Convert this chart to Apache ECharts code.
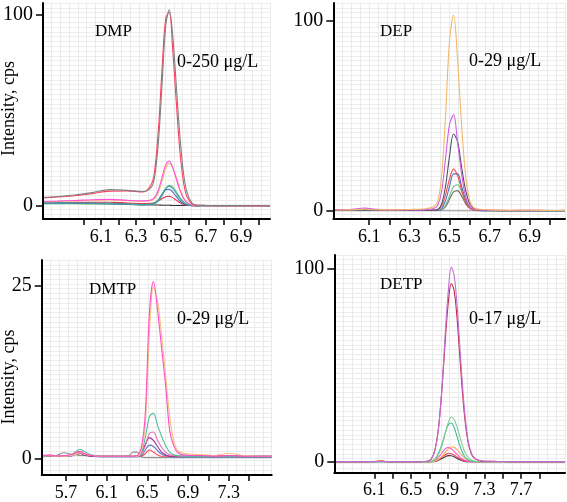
<!DOCTYPE html>
<html><head><meta charset="utf-8">
<script src="https://cdn.jsdelivr.net/npm/echarts@6/dist/echarts.min.js"></script>
<style>html,body{margin:0;padding:0;background:#fff}#c{width:567px;height:502px}</style>
</head><body><div id="c"></div>
<script>
// ---------- DATA ----------
const PANEL_NAMES = ['DMP', 'DEP', 'DMTP', 'DETP'];
const PANEL_RANGES = ['0-250 μg/L', '0-29 μg/L', '0-29 μg/L', '0-17 μg/L'];
const Y_TITLE = 'Intensity, cps';

// DMP (top-left)
const DMP_X = [5.77, 5.85, 5.95, 6.05, 6.15, 6.25, 6.34, 6.39, 6.41, 6.43, 6.45, 6.47, 6.49, 6.51, 6.53, 6.55, 6.57, 6.59, 6.62, 6.65, 6.70, 6.80, 6.90, 7.00, 7.066];
const DMP_GREY   = [4.5, 5.0, 5.8, 7.0, 8.6, 8.2, 7.6, 10.1, 17.4, 35.4, 65, 94.1, 102.8, 89.2, 64, 38, 18.6, 7.7, 1.6, 0.4, 0.3, 0.2, 0.2, 0.1, 0.1];
const DMP_RED    = [4.2, 4.7, 5.4, 6.5, 7.8, 7.9, 7.3, 11.8, 21, 42, 73, 98, 101.5, 82, 55, 30, 13.5, 5.2, 1.2, 0.4, 0.3, 0.2, 0.2, 0.1, 0.1];
const DMP_PINK   = [2.4, 2.6, 2.9, 3.3, 3.5, 3.0, 2.7, 3.3, 4.9, 8.8, 15.3, 21.5, 23.6, 20.1, 14.4, 8.6, 4.3, 1.9, 0.5, 0.3, 0.2, 0.2, 0.1, 0.1, 0.1];
const DMP_YELLOW = [2.2, 2.4, 2.7, 3.0, 3.2, 2.8, 2.5, 2.9, 4.2, 7.5, 13.3, 19.5, 22.3, 20.2, 15.2, 9.5, 4.9, 2.2, 0.7, 0.3, 0.2, 0.2, 0.1, 0.1, 0.1];
const DMP_TEAL   = [1.8, 1.7, 1.6, 1.5, 1.4, 1.0, 0.8, 1.0, 1.8, 3.5, 6.4, 9.2, 10.4, 9.2, 6.7, 4.0, 2.0, 0.9, 0.4, 0.2, 0.2, 0.1, 0.1, 0.1, 0.1];
const DMP_BLUE   = [1.5, 1.5, 1.4, 1.3, 1.2, 0.9, 0.6, 0.9, 1.7, 3.4, 6.0, 8.5, 8.8, 7.3, 5.0, 2.8, 1.3, 0.6, 0.3, 0.2, 0.1, 0.1, 0.1, 0.1, 0.1];
const DMP_GREEN  = [1.2, 1.2, 1.2, 1.1, 1.0, 0.8, 0.6, 0.7, 1.3, 2.8, 5.6, 9.0, 10.8, 10.0, 7.6, 4.7, 2.4, 1.0, 0.4, 0.2, 0.1, 0.1, 0.1, 0.1, 0.1];
const DMP_RED2   = [1.8, 1.8, 1.9, 2.0, 2.0, 1.6, 1.3, 1.4, 1.9, 2.8, 3.9, 4.9, 5.1, 4.4, 3.1, 1.8, 0.9, 0.4, 0.2, 0.1, 0.1, 0.1, 0.1, 0.1, 0.1];
const DMP_DARK   = [1.9, 1.8, 1.7, 1.6, 1.3, 1.0, 0.7, 0.6, 0.5, 0.5, 0.4, 0.4, 0.4, 0.3, 0.3, 0.3, 0.3, 0.3, 0.2, 0.2, 0.2, 0.2, 0.2, 0.1, 0.1];
const DMP_XTICKS = [6.0, 6.1, 6.2, 6.3, 6.4, 6.5, 6.6, 6.7, 6.8, 6.9, 7.0];
const DMP_XLABELS = [6.1, 6.3, 6.5, 6.7, 6.9];
const DMP_YTICKS = [0, 100];

// DEP (top-right)
const DEP_X = [5.921, 6.0, 6.05, 6.08, 6.12, 6.2, 6.3, 6.38, 6.42, 6.44, 6.46, 6.48, 6.50, 6.52, 6.54, 6.56, 6.58, 6.60, 6.62, 6.65, 6.70, 6.80, 6.90, 7.00, 7.075];
const DEP_ORANGE  = [0.5, 0.6, 0.8, 0.9, 0.7, 0.6, 0.8, 1.2, 2.2, 4.6, 17.7, 49.9, 89.7, 103, 79.5, 45.1, 18.7, 5.8, 1.8, 0.9, 0.6, 0.4, 0.4, 0.3, 0.3];
const DEP_MAGENTA = [0.6, 0.8, 1.3, 1.6, 1.0, 0.6, 0.5, 0.7, 1.3, 2.8, 10, 27.5, 45.5, 50.5, 36, 19.5, 7.5, 2.4, 1.0, 0.6, 0.4, 0.3, 0.3, 0.3, 0.3];
const DEP_DARK    = [0.4, 0.5, 0.6, 0.6, 0.5, 0.4, 0.4, 0.4, 0.5, 0.8, 3.5, 13, 29, 40.5, 36.5, 23, 11, 4, 1.4, 0.5, 0.3, 0.2, 0.2, 0.2, 0.2];
const DEP_RED     = [0.7, 0.6, 0.9, 1.0, 0.7, 0.5, 0.6, 0.5, 0.5, 0.7, 2.5, 8.5, 17, 22, 18.5, 11, 4.8, 1.6, 0.6, 0.4, 0.4, 0.3, 0.4, 0.3, 0.4];
const DEP_BLUE    = [0.3, 0.4, 0.5, 0.5, 0.4, 0.3, 0.3, 0.3, 0.3, 0.3, 1.2, 5.5, 13, 19.5, 19.5, 13, 6, 2.2, 0.8, 0.3, 0.2, 0.2, 0.2, 0.2, 0.2];
const DEP_GREEN   = [0.3, 0.3, 0.4, 0.4, 0.3, 0.3, 0.3, 0.3, 0.3, 0.3, 0.6, 3, 8, 12.8, 13.8, 10, 5, 1.9, 0.7, 0.3, 0.2, 0.2, 0.2, 0.2, 0.2];
const DEP_OLIVE   = [0.3, 0.3, 0.3, 0.3, 0.3, 0.3, 0.3, 0.3, 0.3, 0.3, 0.5, 2.3, 6.2, 10, 10.7, 7.8, 3.9, 1.5, 0.5, 0.2, 0.2, 0.2, 0.2, 0.2, 0.2];
const DEP_FLAT    = [0.1, 0.1, 0.1, 0.1, 0.1, 0.1, 0.1, 0.1, 0.1, 0.1, 0.1, 0.1, 0.1, 0.1, 0.1, 0.1, 0.1, 0.1, 0.1, 0.1, 0.1, 0.1, 0.1, 0.1, 0.1];
const DEP_XTICKS = [6.1, 6.2, 6.3, 6.4, 6.5, 6.6, 6.7, 6.8, 6.9, 7.0];
const DEP_XLABELS = [6.1, 6.3, 6.5, 6.7, 6.9];
const DEP_YTICKS = [0, 100];

// DMTP (bottom-left)
const DMTP_X = [5.461, 5.55, 5.62, 5.68, 5.75, 5.80, 5.84, 5.88, 5.95, 6.05, 6.15, 6.25, 6.32, 6.36, 6.40, 6.44, 6.48, 6.52, 6.56, 6.60, 6.64, 6.68, 6.72, 6.76, 6.80, 6.86, 6.95, 7.05, 7.15, 7.30, 7.45, 7.60, 7.723];
const DMTP_PINK    = [0.4, 0.5, 0.3, 0.4, 0.5, 0.9, 1.0, 0.7, 0.4, 0.3, 0.3, 0.3, 0.3, 0.3, 0.4, 1.5, 6.5, 21, 25.6, 21.5, 16, 10.5, 4, 1.8, 0.8, 0.5, 0.4, 0.4, 0.3, 0.4, 0.3, 0.3, 0.3];
const DMTP_ORANGE  = [0.3, 0.4, 0.3, 0.3, 0.4, 0.6, 0.8, 0.6, 0.4, 0.3, 0.3, 0.3, 0.3, 0.3, 0.3, 1.0, 5.0, 18, 24.8, 22.8, 17.8, 12, 6, 2.5, 1.1, 0.7, 0.6, 0.5, 0.4, 0.7, 0.4, 0.3, 0.3];
const DMTP_TEAL    = [0.3, 0.4, 0.3, 0.3, 0.5, 1.0, 1.3, 1.0, 0.5, 0.3, 0.3, 0.3, 0.3, 0.3, 0.3, 0.8, 3.0, 6.0, 6.5, 4.8, 3.2, 1.8, 0.9, 0.5, 0.4, 0.3, 0.3, 0.3, 0.3, 0.3, 0.3, 0.3, 0.3];
const DMTP_PINK2   = [0.3, 0.3, 0.3, 0.3, 0.4, 0.7, 0.8, 0.6, 0.4, 0.3, 0.3, 0.3, 0.3, 0.3, 0.3, 0.6, 1.8, 3.6, 3.8, 2.6, 1.6, 0.9, 0.5, 0.4, 0.3, 0.3, 0.3, 0.3, 0.3, 0.3, 0.3, 0.3, 0.3];
const DMTP_PURPLE  = [0.3, 0.3, 0.3, 0.3, 0.4, 0.6, 0.7, 0.5, 0.3, 0.3, 0.3, 0.3, 0.3, 0.3, 0.3, 0.7, 2.0, 3.0, 2.6, 1.7, 0.9, 0.5, 0.3, 0.3, 0.3, 0.3, 0.3, 0.3, 0.3, 0.3, 0.3, 0.3, 0.3];
const DMTP_BLUE    = [0.2, 0.3, 0.3, 0.3, 0.3, 0.6, 0.7, 0.5, 0.3, 0.2, 0.2, 0.2, 0.2, 0.2, 0.2, 0.4, 1.2, 1.9, 1.7, 1.1, 0.6, 0.4, 0.3, 0.2, 0.2, 0.2, 0.2, 0.2, 0.2, 0.2, 0.2, 0.2, 0.2];
const DMTP_RED     = [0.3, 0.3, 0.3, 0.3, 0.4, 0.7, 0.9, 0.6, 0.4, 0.3, 0.3, 0.3, 0.3, 0.3, 0.3, 0.3, 0.7, 1.2, 0.9, 0.5, 0.3, 0.3, 0.3, 0.3, 0.3, 0.3, 0.3, 0.3, 0.3, 0.3, 0.3, 0.3, 0.3];
const DMTP_GREY    = [0.3, 0.3, 0.5, 0.8, 0.6, 0.5, 0.4, 0.4, 0.3, 0.3, 0.3, 0.3, 0.4, 0.9, 0.9, 0.2, 0.1, 0.1, 0.1, 0.1, 0.1, 0.1, 0.1, 0.1, 0.1, 0.1, 0.1, 0.1, 0.1, 0.1, 0.1, 0.1, 0.1];
const DMTP_XTICKS = [5.7, 5.9, 6.1, 6.3, 6.5, 6.7, 6.9, 7.1, 7.3, 7.5];
const DMTP_XLABELS = [5.7, 6.1, 6.5, 6.9, 7.3];
const DMTP_YTICKS = [0, 25];

// DETP (bottom-right)
const DETP_X = [5.664, 5.8, 5.95, 6.1, 6.18, 6.22, 6.3, 6.45, 6.6, 6.68, 6.72, 6.76, 6.80, 6.84, 6.88, 6.91, 6.94, 6.97, 7.00, 7.04, 7.08, 7.12, 7.16, 7.20, 7.25, 7.30, 7.45, 7.6, 7.8, 8.0, 8.18];
const DETP_VIOLET  = [0.2, 0.2, 0.2, 0.2, 0.3, 0.2, 0.2, 0.2, 0.2, 0.4, 1.4, 5.8, 17, 40, 71, 90, 101, 97, 83, 55, 29, 12, 4.5, 1.8, 0.8, 0.4, 0.3, 0.2, 0.2, 0.2, 0.2];
const DETP_CRIMSON = [0.2, 0.2, 0.2, 0.3, 0.5, 0.3, 0.2, 0.2, 0.2, 0.4, 1.5, 6, 17.5, 39, 67, 84, 92.5, 89, 76, 50, 26, 11, 4, 1.6, 0.7, 0.4, 0.3, 0.2, 0.2, 0.2, 0.2];
const DETP_GREEN   = [0.1, 0.1, 0.1, 0.1, 0.2, 0.1, 0.1, 0.1, 0.1, 0.1, 0.3, 1.2, 3.8, 8.8, 16, 20.8, 23.3, 22, 18.5, 12, 6, 2.6, 1.0, 0.4, 0.2, 0.1, 0.1, 0.1, 0.1, 0.1, 0.1];
const DETP_TEAL    = [0.1, 0.1, 0.1, 0.1, 0.2, 0.1, 0.1, 0.1, 0.1, 0.1, 0.4, 1.5, 4.5, 9.5, 16, 19.5, 20.2, 18, 13.5, 7.5, 3.2, 1.2, 0.4, 0.2, 0.1, 0.1, 0.1, 0.1, 0.1, 0.1, 0.1];
const DETP_ORANGE  = [0.2, 0.2, 0.2, 0.3, 0.6, 0.3, 0.2, 0.2, 0.2, 0.2, 0.2, 0.5, 1.4, 3, 5.3, 6.9, 7.8, 7.7, 6.5, 4.3, 2.3, 1.0, 0.4, 0.3, 0.2, 0.2, 0.2, 0.2, 0.2, 0.2, 0.2];
const DETP_MAGENTA = [0.2, 0.2, 0.2, 0.3, 0.4, 0.3, 0.2, 0.2, 0.2, 0.2, 0.3, 0.8, 2.4, 4.8, 7.1, 7.5, 6.8, 5.6, 4.0, 2.2, 1.0, 0.4, 0.2, 0.2, 0.2, 0.2, 0.2, 0.2, 0.2, 0.2, 0.2];
const DETP_RED     = [0.2, 0.2, 0.2, 0.2, 0.3, 0.2, 0.2, 0.2, 0.2, 0.2, 0.2, 0.4, 1.2, 2.6, 3.9, 4.5, 4.3, 3.6, 2.6, 1.4, 0.6, 0.2, 0.2, 0.2, 0.2, 0.2, 0.2, 0.2, 0.2, 0.2, 0.2];
const DETP_DARK    = [0.1, 0.1, 0.1, 0.1, 0.2, 0.1, 0.1, 0.1, 0.1, 0.1, 0.1, 0.3, 0.9, 1.9, 2.9, 3.3, 3.2, 2.7, 1.9, 1.0, 0.4, 0.1, 0.1, 0.1, 0.1, 0.1, 0.1, 0.1, 0.1, 0.1, 0.1];
const DETP_XTICKS = [6.1, 6.3, 6.5, 6.7, 6.9, 7.1, 7.3, 7.5, 7.7, 7.9];
const DETP_XLABELS = [6.1, 6.5, 6.9, 7.3, 7.7];
const DETP_YTICKS = [0, 100];

// ---------- STYLE / LAYOUT ----------
const FONT = 'Liberation Serif';
const panels = [
  { x: DMP_X, xt: DMP_XTICKS, xl: DMP_XLABELS, yt: DMP_YTICKS, title: [9.5, 108.5],
    traces: [[DMP_DARK,'#333333'],[DMP_RED2,'#e03050'],[DMP_GREEN,'#60c080'],[DMP_BLUE,'#4a6ab8'],[DMP_TEAL,'#40a8a0'],[DMP_YELLOW,'#f2c070'],[DMP_PINK,'#ff50e0'],[DMP_RED,'#ff4060'],[DMP_GREY,'#808080']],
    box: {left: 41.7, top: 3, width: 228.3, height: 216}, xr: [5.769, 7.066], yr: [-6.8, 106.3],
    nameBox: [95, 33], rangeBox: [177, 63] },
  { x: DEP_X, xt: DEP_XTICKS, xl: DEP_XLABELS, yt: DEP_YTICKS, title: null,
    traces: [[DEP_FLAT,'#909090'],[DEP_OLIVE,'#6a6a58'],[DEP_GREEN,'#70c090'],[DEP_BLUE,'#5070c0'],[DEP_RED,'#f05050'],[DEP_DARK,'#505060'],[DEP_MAGENTA,'#d060e0'],[DEP_ORANGE,'#f0b870']],
    box: {left: 333.3, top: 3, width: 231.7, height: 216}, xr: [5.921, 7.075], yr: [-4.2, 109.3],
    nameBox: [380, 33], rangeBox: [469, 62] },
  { x: DMTP_X, xt: DMTP_XTICKS, xl: DMTP_XLABELS, yt: DMTP_YTICKS, title: [9.5, 377],
    traces: [[DMTP_GREY,'#909090'],[DMTP_RED,'#ff4050'],[DMTP_BLUE,'#5878c8'],[DMTP_PURPLE,'#a03090'],[DMTP_PINK2,'#e070b0'],[DMTP_TEAL,'#50c0a0'],[DMTP_ORANGE,'#f8c080'],[DMTP_PINK,'#ff50c0']],
    box: {left: 41.7, top: 260, width: 230, height: 215}, xr: [5.461, 7.723], yr: [-2.42, 28.72],
    nameBox: [89, 291], rangeBox: [177, 320] },
  { x: DETP_X, xt: DETP_XTICKS, xl: DETP_XLABELS, yt: DETP_YTICKS, title: null,
    traces: [[DETP_DARK,'#403030'],[DETP_RED,'#f04050'],[DETP_MAGENTA,'#ff50d0'],[DETP_ORANGE,'#f8b060'],[DETP_TEAL,'#40b8a0'],[DETP_GREEN,'#80d090'],[DETP_CRIMSON,'#c02850'],[DETP_VIOLET,'#c070d0']],
    box: {left: 334.3, top: 255, width: 230.7, height: 217.7}, xr: [5.664, 8.18], yr: [-5.54, 107.25],
    nameBox: [380, 286], rangeBox: [469, 320] }
];

const grid = [], xAxis = [], yAxis = [], series = [], graphic = [];
panels.forEach((p, i) => {
  grid.push(Object.assign({}, p.box));
  xAxis.push({
    type: 'value', gridIndex: i, min: p.xr[0], max: p.xr[1], z: 5,
    axisLine: { onZero: false, lineStyle: { color: '#000', width: 2 } },
    axisTick: { show: true, customValues: p.xt, length: 6, lineStyle: { color: '#000', width: 1.5 } },
    axisLabel: { customValues: p.xl, formatter: v => v.toFixed(1), color: '#000', fontFamily: FONT, fontSize: 18, margin: 9 },
    splitLine: { show: false }
  });
  xAxis.push({
    type: 'value', gridIndex: i, min: 0, max: Math.round(p.box.width / 8.8), interval: 1, z: 0,
    axisLine: { show: false }, axisTick: { show: false }, axisLabel: { show: false },
    splitLine: { show: true, lineStyle: { color: '#ebebeb', width: 1 } }
  });
  yAxis.push({
    type: 'value', gridIndex: i, min: p.yr[0], max: p.yr[1], z: 5,
    axisLine: { onZero: false, lineStyle: { color: '#000', width: 2 } },
    axisTick: { show: true, customValues: p.yt, length: 7, lineStyle: { color: '#000', width: 1.5 } },
    axisLabel: { customValues: p.yt, color: '#000', fontFamily: FONT, fontSize: 20, margin: 10 },
    splitLine: { show: false }
  });
  yAxis.push({
    type: 'value', gridIndex: i, min: 0, max: Math.round(p.box.height / 4.75), interval: 1, z: 0,
    axisLine: { show: false }, axisTick: { show: false }, axisLabel: { show: false },
    splitLine: { show: true, lineStyle: { color: '#ededed', width: 1 } }
  });
  p.traces.forEach(([ys, col]) => {
    series.push({
      type: 'line', xAxisIndex: 2 * i, yAxisIndex: 2 * i, z: 3,
      data: p.x.map((x, k) => [x, ys[k]]),
      showSymbol: false, smooth: 0.35, clip: true, silent: true,
      lineStyle: { color: col, width: 1.1 }
    });
  });
  graphic.push({ type: 'text', z: 100, left: p.nameBox[0], top: p.nameBox[1] - 10,
    style: { text: PANEL_NAMES[i], font: '17px "Liberation Serif"', fill: '#000' } });
  graphic.push({ type: 'text', z: 100, left: p.rangeBox[0], top: p.rangeBox[1] - 10,
    style: { text: PANEL_RANGES[i], font: '18px "Liberation Serif"', fill: '#000' } });
  if (p.title) {
    graphic.push({ type: 'text', z: 100, x: p.title[0], y: p.title[1], rotation: Math.PI / 2,
      style: { text: Y_TITLE, font: '18px "Liberation Serif"', fill: '#000', align: 'center', verticalAlign: 'middle' } });
  }
});

const chart = echarts.init(document.getElementById('c'), null, { renderer: 'canvas' });
chart.setOption({ animation: false, backgroundColor: '#fff', grid, xAxis, yAxis, series, graphic });
</script></body></html>
